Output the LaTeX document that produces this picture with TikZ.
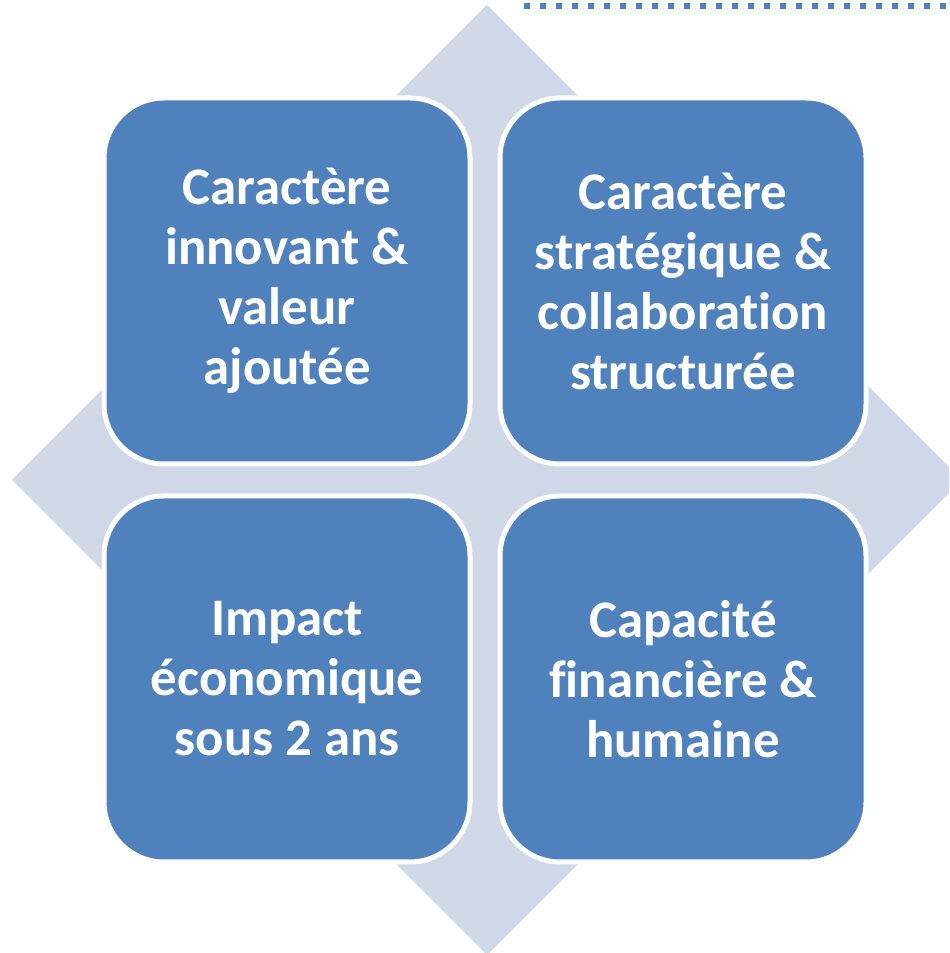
\documentclass[tikz,border=0pt]{standalone}
\usepackage{fontspec}
\setmainfont{Carlito}[Ligatures=NoCommon]
\usepackage{xcolor}
\usepackage{tikz}
\usetikzlibrary{shapes.geometric, positioning, backgrounds, calc}
\definecolor{boxblue}{HTML}{4F81BD}
\definecolor{diamondgray}{HTML}{D0D8E8}
\tikzstyle{criterion} = [rectangle, rounded corners=30pt, minimum width=183pt, minimum height=183pt, align=center, draw=white, line width=2.5pt, fill=boxblue, text=white, font=\fontsize{26.4}{30}\selectfont\bfseries]

\begin{document}
\begin{tikzpicture}[x=0.5pt, y=0.5pt]
    \useasboundingbox (0,0) rectangle (949,953);
    \clip (0,0) rectangle (949,953);

    % Background diamond
    \fill [diamondgray] (487,948) -- (12,473) -- (487,-2) -- (962,473) -- cycle;

    % Dotted rule
    \draw [boxblue, line width=3pt, dash pattern=on 3pt off 5pt] (524,947) -- (955,947);

    % Criteria
    \node (innov) [criterion] at (287,672) {Caractère\\innovant \&\\valeur\\ajoutée};
    \node (strat) [criterion] at (683,672) {Caractère\\stratégique \&\\collaboration\\structurée};
    \node (impact) [criterion] at (287,274) {Impact\\économique\\sous 2 ans};
    \node (capa) [criterion] at (683,274) {Capacité\\financière \&\\humaine};
\end{tikzpicture}
\end{document}
